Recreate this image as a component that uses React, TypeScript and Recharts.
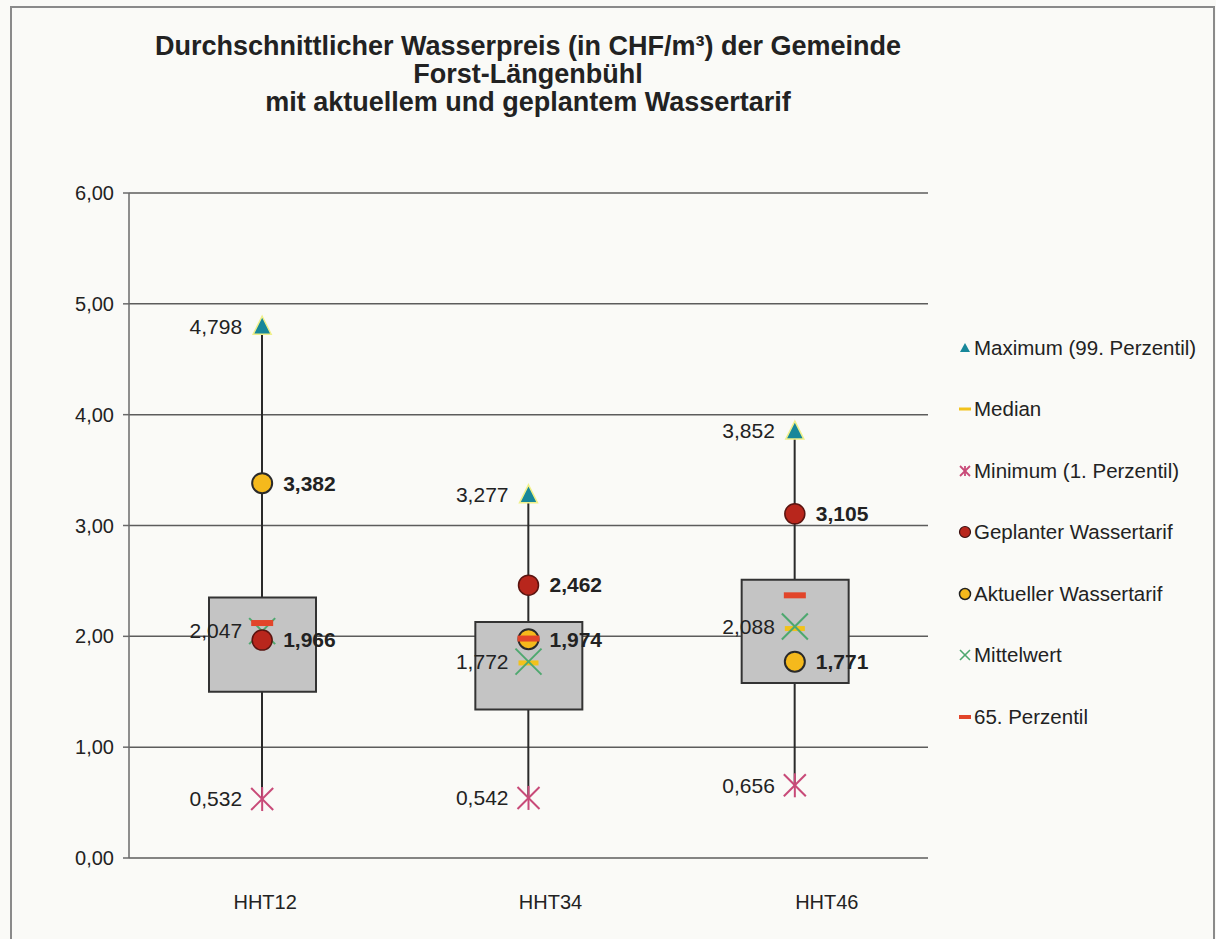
import React from "react";
import {
  ComposedChart,
  Bar,
  Scatter,
  XAxis,
  YAxis,
  CartesianGrid,
  Legend,
} from "recharts";

const categories = ["HHT12", "HHT34", "HHT46"];
const maxValues = [4.798, 3.277, 3.852];
const q3Values = [2.35, 2.13, 2.51];
const q1Values = [1.5, 1.34, 1.58];
const medianValues = [1.96, 1.76, 2.07];
const minValues = [0.532, 0.542, 0.656];
const plannedValues = [1.966, 2.462, 3.105];
const currentValues = [3.382, 1.974, 1.771];
const meanValues = [2.047, 1.772, 2.088];
const p65Values = [2.12, 1.98, 2.37];
const yTicks = [0, 1, 2, 3, 4, 5, 6];

const legendNames = [
  "Maximum (99. Perzentil)",
  "Median",
  "Minimum (1. Perzentil)",
  "Geplanter Wassertarif",
  "Aktueller Wassertarif",
  "Mittelwert",
  "65. Perzentil",
];

const data = categories.map((name, i) => ({
  name,
  max: maxValues[i],
  q3: q3Values[i],
  q1: q1Values[i],
  median: medianValues[i],
  min: minValues[i],
  planned: plannedValues[i],
  current: currentValues[i],
  mean: meanValues[i],
  p65: p65Values[i],
}));

const FONT = "'Liberation Sans', Arial, sans-serif";
const TEXT = "#222";
const C_MAX = "#17879a";
const C_MEDIAN = "#f2c21b";
const C_MIN = "#c84a78";
const C_PLANNED = "#b8261c";
const C_CURRENT = "#f5b91c";
const C_MEAN = "#4ea86f";
const C_P65 = "#e2452a";

// small offsets of the category names, as in the scanned original
const TICK_SHIFT = [3, 22, 32];

const fmt = (v: number) => v.toFixed(3).replace(".", ",");

function ValueLabel({ x, y, value, side, bold }: any) {
  return (
    <text
      x={side === "left" ? x - 20 : x + 21}
      y={y}
      dy="0.35em"
      textAnchor={side === "left" ? "end" : "start"}
      fontFamily={FONT}
      fontSize={21}
      fontWeight={bold ? 700 : 400}
      fill={TEXT}
      stroke="none"
    >
      {fmt(value)}
    </text>
  );
}

const MaxShape = (p: any) => (
  <g>
    <polygon
      points={`${p.cx},${p.cy - 10} ${p.cx + 9},${p.cy + 8} ${p.cx - 9},${p.cy + 8}`}
      fill={C_MAX}
      stroke="#f0f08a"
      strokeWidth={1.5}
    />
    <ValueLabel x={p.cx} y={p.cy} value={p.payload.max} side="left" />
  </g>
);

const MedianShape = (p: any) => (
  <rect x={p.cx - 10} y={p.cy - 2.5} width={20} height={5} fill={C_MEDIAN} />
);

const MinShape = (p: any) => (
  <g>
    <g stroke={C_MIN} strokeWidth={2}>
      <line x1={p.cx - 11} y1={p.cy - 11} x2={p.cx + 11} y2={p.cy + 11} />
      <line x1={p.cx - 11} y1={p.cy + 11} x2={p.cx + 11} y2={p.cy - 11} />
      <line x1={p.cx} y1={p.cy - 12} x2={p.cx} y2={p.cy + 12} />
    </g>
    <ValueLabel x={p.cx} y={p.cy} value={p.payload.min} side="left" />
  </g>
);

const PlannedShape = (p: any) => (
  <g>
    <circle cx={p.cx} cy={p.cy} r={10} fill={C_PLANNED} stroke="#5a1410" strokeWidth={1.5} />
    <ValueLabel x={p.cx} y={p.cy} value={p.payload.planned} side="right" bold />
  </g>
);

const CurrentShape = (p: any) => (
  <g>
    <circle cx={p.cx} cy={p.cy} r={10} fill={C_CURRENT} stroke="#2a2a2a" strokeWidth={2} />
    <ValueLabel x={p.cx} y={p.cy} value={p.payload.current} side="right" bold />
  </g>
);

const MeanShape = (p: any) => (
  <g>
    <g stroke={C_MEAN} strokeWidth={2}>
      <line x1={p.cx - 13} y1={p.cy - 13} x2={p.cx + 13} y2={p.cy + 13} />
      <line x1={p.cx - 13} y1={p.cy + 13} x2={p.cx + 13} y2={p.cy - 13} />
    </g>
    <ValueLabel x={p.cx} y={p.cy} value={p.payload.mean} side="left" />
  </g>
);

const P65Shape = (p: any) => (
  <rect x={p.cx - 11} y={p.cy - 3} width={22} height={6} fill={C_P65} />
);

function LegendIcon({ i }: { i: number }) {
  const c = 8;
  switch (i) {
    case 0:
      return <polygon points={`${c},${c - 5} ${c + 5},${c + 4} ${c - 5},${c + 4}`} fill={C_MAX} />;
    case 1:
      return <rect x={c - 6} y={c - 1.5} width={12} height={3} fill={C_MEDIAN} />;
    case 2:
      return (
        <g stroke={C_MIN} strokeWidth={1.8}>
          <line x1={c - 5} y1={c - 5} x2={c + 5} y2={c + 5} />
          <line x1={c - 5} y1={c + 5} x2={c + 5} y2={c - 5} />
          <line x1={c} y1={c - 5} x2={c} y2={c + 5} />
        </g>
      );
    case 3:
      return <circle cx={c} cy={c} r={5.5} fill={C_PLANNED} stroke="#3a1010" strokeWidth={1.2} />;
    case 4:
      return <circle cx={c} cy={c} r={5.5} fill={C_CURRENT} stroke="#222" strokeWidth={1.5} />;
    case 5:
      return (
        <g stroke={C_MEAN} strokeWidth={1.6}>
          <line x1={c - 5} y1={c - 5} x2={c + 5} y2={c + 5} />
          <line x1={c - 5} y1={c + 5} x2={c + 5} y2={c - 5} />
        </g>
      );
    default:
      return <rect x={c - 6} y={c - 2} width={12} height={4} fill={C_P65} />;
  }
}

function LegendBox() {
  return (
    <div style={{ fontFamily: FONT, fontSize: 20.5, color: TEXT }}>
      {legendNames.map((name, i) => (
        <div
          key={name}
          style={{ display: "flex", alignItems: "center", height: 61.5 }}
        >
          <svg width={16} height={16} style={{ marginRight: 1 }}>
            <LegendIcon i={i} />
          </svg>
          <span style={{ whiteSpace: "nowrap" }}>{name}</span>
        </div>
      ))}
    </div>
  );
}

function CategoryTick({ x, y, payload, index }: any) {
  return (
    <text
      x={x + (TICK_SHIFT[index] ?? 0)}
      y={y + 14}
      dy="0.35em"
      textAnchor="middle"
      fontFamily={FONT}
      fontSize={20}
      fill={TEXT}
    >
      {payload.value}
    </text>
  );
}

export default function App() {
  return (
    <div
      style={{
        position: "absolute",
        left: 0,
        top: 0,
        width: 1216,
        height: 939,
        background: "#fafaf7",
        overflow: "hidden",
      }}
    >
      <div
        style={{
          position: "absolute",
          left: 10,
          top: 6,
          width: 1201,
          height: 960,
          border: "2px solid #8a8a8a",
        }}
      />
      <div
        style={{
          position: "absolute",
          left: 0,
          top: 32,
          width: 1056,
          textAlign: "center",
          fontFamily: FONT,
          fontWeight: 700,
          fontSize: 27,
          lineHeight: "28px",
          color: TEXT,
        }}
      >
        Durchschnittlicher Wasserpreis (in CHF/m³) der Gemeinde
        <br />
        Forst-Längenbühl
        <br />
        mit aktuellem und geplantem Wassertarif
      </div>
      <div style={{ position: "absolute", left: 0, top: 0 }}>
        <ComposedChart
          width={1216}
          height={939}
          data={data}
          margin={{ top: 193, right: 29, bottom: 20, left: 61 }}
        >
          <CartesianGrid
            vertical={false}
            stroke="#5c5c5c"
            strokeWidth={1.5}
          />
          <XAxis
            xAxisId="main"
            dataKey="name"
            height={61}
            axisLine={false}
            tickLine={false}
            tickSize={0}
            tickMargin={0}
            tick={<CategoryTick />}
            interval={0}
          />
          <XAxis xAxisId="box" dataKey="name" hide />
          <YAxis
            width={68}
            domain={[0, 6]}
            ticks={yTicks}
            interval={0}
            axisLine={{ stroke: "#6a6a6a", strokeWidth: 1.5 }}
            tickLine={{ stroke: "#6a6a6a", strokeWidth: 1.5 }}
            tickSize={6}
            tickMargin={9}
            tickFormatter={(v: number) => v.toFixed(2).replace(".", ",")}
            tick={{ fontFamily: FONT, fontSize: 20, fill: TEXT }}
          />
          <Bar
            xAxisId="main"
            dataKey={(d: any) => [d.min, d.max]}
            barSize={2}
            fill="#2a2a2a"
            isAnimationActive={false}
          />
          <Bar
            xAxisId="box"
            dataKey={(d: any) => [d.q1, d.q3]}
            barSize={107}
            fill="#c4c4c4"
            stroke="#333"
            strokeWidth={2}
            isAnimationActive={false}
          />
          <Scatter xAxisId="main" dataKey="median" shape={MedianShape} isAnimationActive={false} />
          <Scatter xAxisId="main" dataKey="mean" shape={MeanShape} isAnimationActive={false} />
          <Scatter xAxisId="main" dataKey="planned" shape={PlannedShape} isAnimationActive={false} />
          <Scatter xAxisId="main" dataKey="current" shape={CurrentShape} isAnimationActive={false} />
          <Scatter xAxisId="main" dataKey="p65" shape={P65Shape} isAnimationActive={false} />
          <Scatter xAxisId="main" dataKey="max" shape={MaxShape} isAnimationActive={false} />
          <Scatter xAxisId="main" dataKey="min" shape={MinShape} isAnimationActive={false} />
          <Legend
            layout="vertical"
            verticalAlign="top"
            align="right"
            content={<LegendBox />}
            wrapperStyle={{ left: 957, top: 317, width: 259 }}
          />
        </ComposedChart>
      </div>
    </div>
  );
}
